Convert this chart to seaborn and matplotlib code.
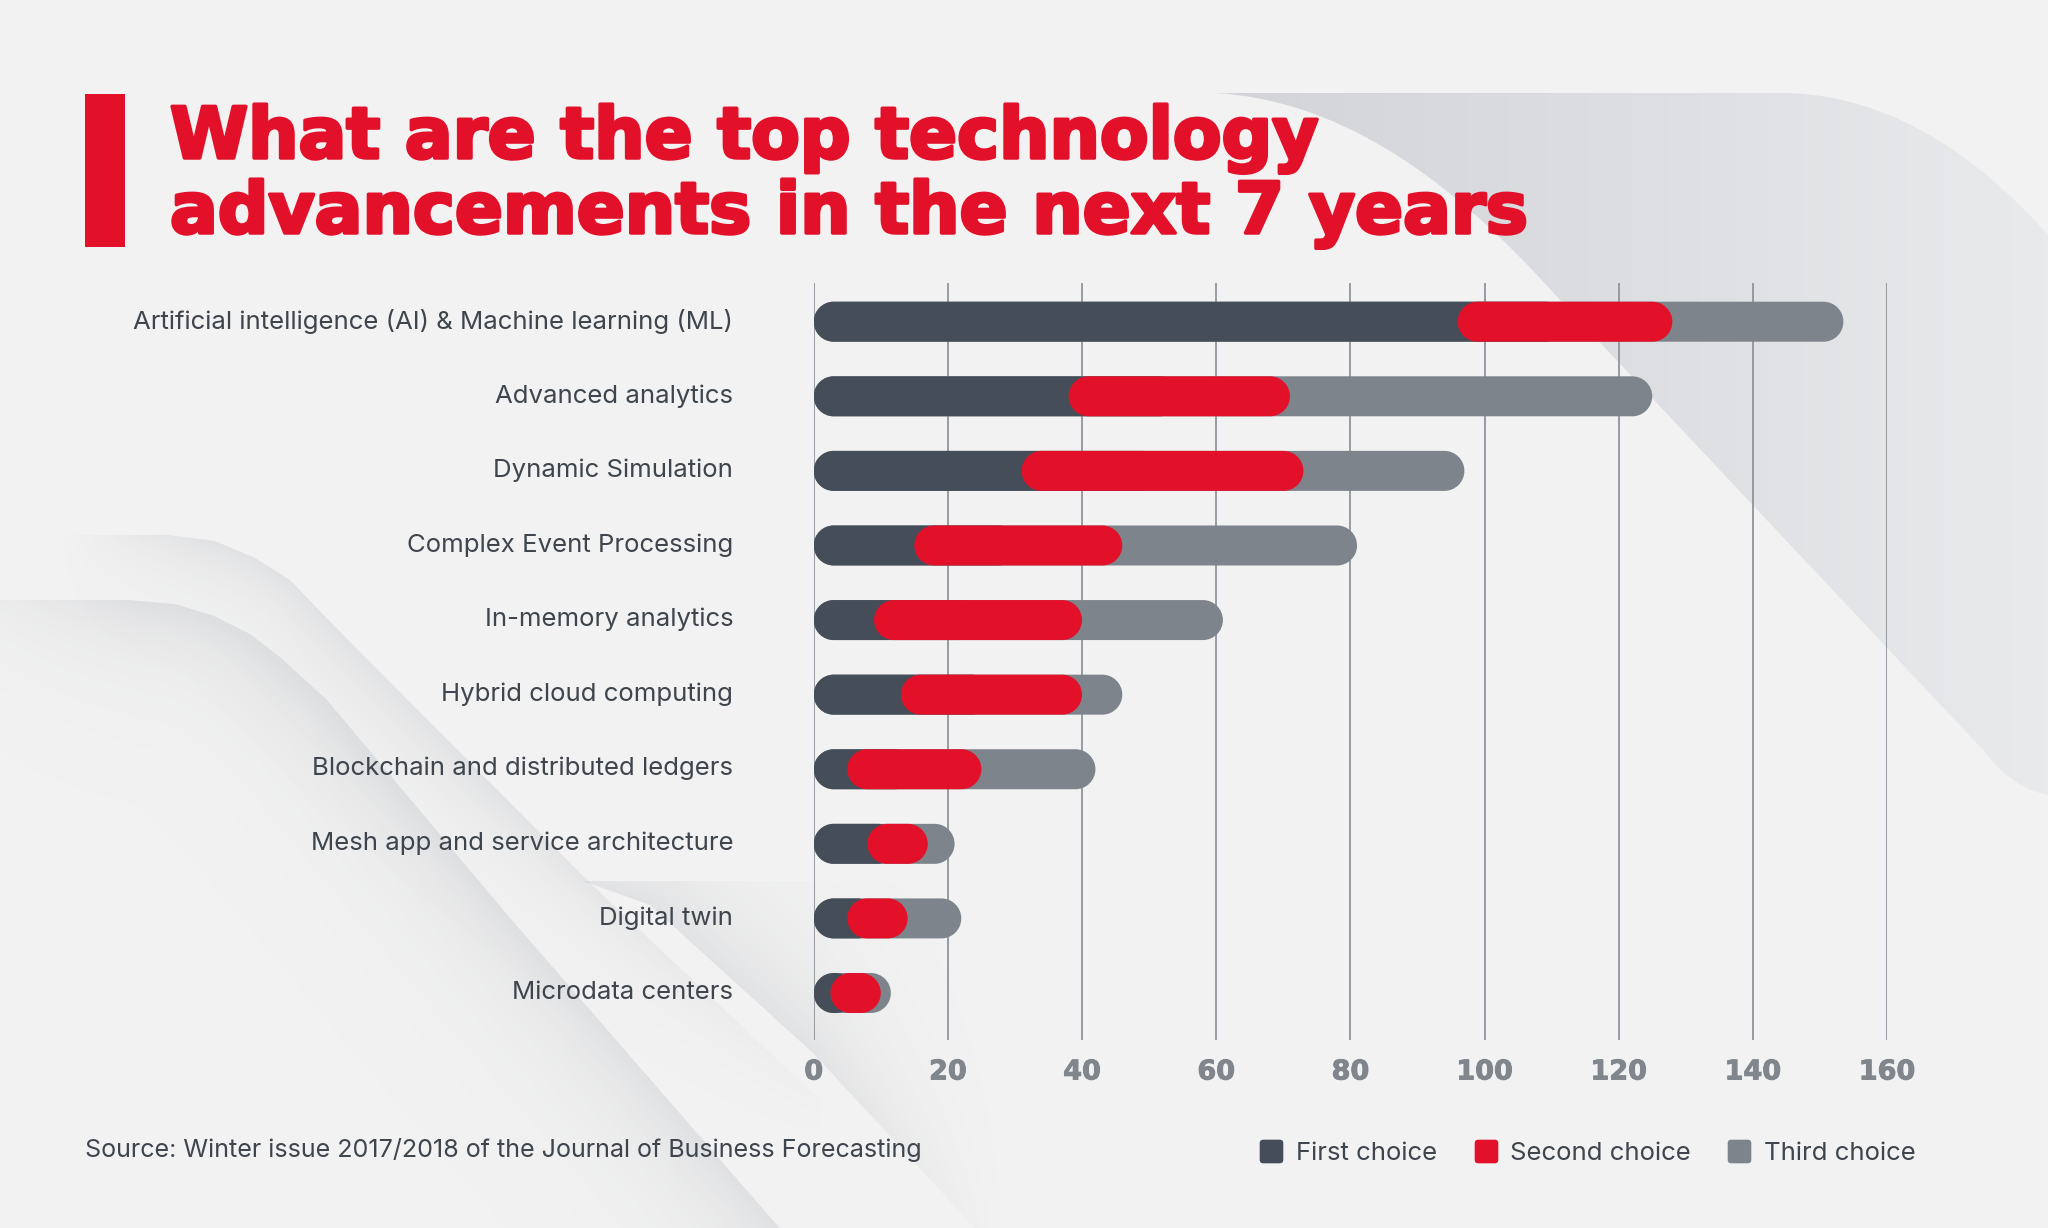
import numpy as np
import pandas as pd
import matplotlib
matplotlib.use("Agg")
import matplotlib.pyplot as plt
import seaborn as sns
from matplotlib.patches import Polygon, Rectangle, BoxStyle, PathPatch
from matplotlib.path import Path
from matplotlib.lines import Line2D
from matplotlib.colors import LinearSegmentedColormap
from matplotlib.transforms import ScaledTranslation
import matplotlib.patheffects as pe

# ---------------- data ----------------
categories = [
    "Artificial intelligence (AI) & Machine learning (ML)",
    "Advanced analytics",
    "Dynamic Simulation",
    "Complex Event Processing",
    "In-memory analytics",
    "Hybrid cloud computing",
    "Blockchain and distributed ledgers",
    "Mesh app and service architecture",
    "Digital twin",
    "Microdata centers",
]
first_choice = [96, 38, 31, 15, 9, 13, 5, 8, 5, 2.5]
second_choice = [32, 33, 42, 31, 31, 27, 20, 9, 9, 7.5]
third_choice = [25.5, 54, 24, 35, 21, 6, 17, 4, 8, 1.5]
x_ticks = [0, 20, 40, 60, 80, 100, 120, 140, 160]
series_names = ["First choice", "Second choice", "Third choice"]
title_lines = ["What are the top technology", "advancements in the next 7 years"]
source_text = "Source: Winter issue 2017/2018 of the Journal of Business Forecasting"

# ---------------- style ----------------
BG = "#f2f2f2"
DARK = "#454e58"
RED = "#e3102a"
GRAY = "#7e848b"
TEXT = "#3f454d"
TICK = "#80868c"
GRID = "#8e949a"

W, H = 2048, 1228
sns.set_theme(style="white")
plt.rcParams["font.family"] = ["Inter", "DejaVu Sans"]

fig = plt.figure(figsize=(W / 100, H / 100), dpi=100, facecolor=BG)
renderer = fig.canvas.get_renderer()

# ---------------- background decoration (pixel coords) ----------------
bg = fig.add_axes([0, 0, 1, 1], zorder=-5)
bg.axis("off")

M, L, C3, C4, CL = Path.MOVETO, Path.LINETO, Path.CURVE3, Path.CURVE4, Path.CLOSEPOLY
tr_verts = [(1216, 93), (1780, 93), (1900, 93), (1990, 170), (2048, 235),
            (2048, 795), (2012, 788), (1985, 752), (1560, 300),
            (1440, 165), (1330, 100), (1216, 93), (1216, 93)]
tr_codes = [M, L, C4, C4, C4, L, C3, C3, L, C4, C4, C4, CL]
tr_patch = PathPatch(Path(tr_verts, tr_codes), fc="none", ec="none")
bg.add_patch(tr_patch)
cmap_tr = LinearSegmentedColormap.from_list("tr", ["#d2d4d7", "#dcdee1", "#e9eaec"])
im = bg.imshow(np.linspace(0, 1, 256)[None, :], extent=(1216, 2048, 795, 93),
               cmap=cmap_tr, aspect="auto", zorder=1, interpolation="bilinear")
im.set_clip_path(tr_patch)

# soft page-curl shadows on the left
step = 3
xs = np.arange(0, W, step) + step / 2
ys = np.arange(0, H, step) + step / 2
XX, YY = np.meshgrid(xs, ys)


def dist_polyline(pts):
    d = np.full(XX.shape, np.inf)
    for (x0, y0), (x1, y1) in zip(pts[:-1], pts[1:]):
        dx, dy = x1 - x0, y1 - y0
        t = np.clip(((XX - x0) * dx + (YY - y0) * dy) / (dx * dx + dy * dy), 0, 1)
        d = np.minimum(d, np.hypot(XX - (x0 + t * dx), YY - (y0 + t * dy)))
    return d


def shade(edge, extra, strength, scale, fade=1.0):
    d = dist_polyline(edge)
    rgba = np.zeros(XX.shape + (4,))
    rgba[..., 0] = 0.52
    rgba[..., 1] = 0.54
    rgba[..., 2] = 0.58
    rgba[..., 3] = strength * np.exp(-d / scale) * fade
    poly = Polygon(edge + extra, closed=True, fc="none", ec="none")
    bg.add_patch(poly)
    img = bg.imshow(rgba, extent=(0, W, H, 0), interpolation="bilinear", zorder=1, aspect="auto")
    img.set_clip_path(poly)


edge_up = [(60, 535), (168, 535), (215, 541), (255, 558), (290, 580), (316, 607),
           (357, 649), (590, 883), (820, 1100)]
fade_up = np.clip((XX - 60) / 140, 0, 1) * np.clip((1150 - YY) / 350, 0, 1)
shade(edge_up, [(820, 1228), (60, 1228)], 0.16, 38, fade_up)

edge_low = [(-10, 600), (128, 600), (175, 604), (214, 616), (250, 634), (281, 658),
            (327, 700), (510, 918), (790, 1240)]
fade_low = np.clip((XX + 80) / 220, 0, 1)
shade(edge_low, [(-10, 1240)], 0.17, 55, fade_low)

# grey band near the bottom of the plot (fades to the right)
edge_dt = [(975, 1228), (813, 1053), (650, 905), (583, 881)]
fade_dt = np.clip((1010 - XX) / 200, 0, 1)
shade(edge_dt, [(880, 881), (980, 905), (1080, 1000), (1150, 1228)], 0.15, 60, fade_dt)

# red accent bar next to the title
bg.add_patch(Rectangle((85, 94), 40, 153, facecolor=RED, edgecolor="none", zorder=3))
bg.set_xlim(0, W)
bg.set_ylim(H, 0)

# ---------------- main axes ----------------
ax_l, ax_r, ax_t, ax_b = 813.7, 1887.0, 282.7, 1040.0
ax = fig.add_axes([ax_l / W, 1 - ax_b / H, (ax_r - ax_l) / W, (ax_b - ax_t) / H])
ax.set_facecolor("none")

df = pd.DataFrame({"category": categories, "first": first_choice,
                   "second": second_choice, "third": third_choice})
df["cum2"] = df["first"] + df["second"]
df["total"] = df["cum2"] + df["third"]

BAR_H = 40 / 74.6


def draw(col, color, z):
    n0 = len(ax.patches)
    sns.barplot(data=df, x=col, y="category", orient="h", color=color,
                saturation=1, width=BAR_H, ax=ax, zorder=z)
    return list(ax.patches[n0:])


gray_bars = draw("total", GRAY, 2)
dark_bars = draw("first", DARK, 3)
red_bars = draw("cum2", RED, 4)

# red segment spans first..first+second; dark runs underneath the red cap
for p, f, s in zip(red_bars, df["first"], df["second"]):
    p.set_x(f)
    p.set_width(s)
for p, s in zip(dark_bars, df["second"]):
    p.set_width(p.get_width() + s / 2)

ax.set_xlim(0, 160)
ax.set_ylim(9.63, -0.523)

# turn each seaborn bar into a pill with semicircular caps
px_per_x = ax.bbox.width / 160.0
R_X = 20.0 / px_per_x
K = 0.5523


def pill_path(x0, y0, w, h):
    x1, y1 = x0 + w, y0 + h
    rx = min(R_X, w / 2)
    ry = h / 2
    yc = y0 + ry
    v = [(x0 + rx, y0), (x1 - rx, y0),
         (x1 - rx + K * rx, y0), (x1, yc - K * ry), (x1, yc),
         (x1, yc + K * ry), (x1 - rx + K * rx, y1), (x1 - rx, y1),
         (x0 + rx, y1),
         (x0 + rx - K * rx, y1), (x0, yc + K * ry), (x0, yc),
         (x0, yc - K * ry), (x0 + rx - K * rx, y0), (x0 + rx, y0),
         (x0 + rx, y0)]
    c = [M, L, C4, C4, C4, C4, C4, C4, L, C4, C4, C4, C4, C4, C4, CL]
    return Path(v, c)


for p in gray_bars + dark_bars + red_bars:
    pp = PathPatch(pill_path(p.get_x(), p.get_y(), p.get_width(), p.get_height()),
                   facecolor=p.get_facecolor(), edgecolor="none", zorder=p.get_zorder())
    p.remove()
    ax.add_patch(pp)

ax.grid(axis="x", color=GRID, lw=1.3)
ax.grid(axis="y", visible=False)
ax.set_axisbelow(True)
for sp in ax.spines.values():
    sp.set_visible(False)
ax.set_xlabel("")
ax.set_ylabel("")

ax.set_xticks(x_ticks)
ax.set_xticklabels([str(v) for v in x_ticks], fontfamily="DejaVu Sans",
                   fontweight="bold", fontsize=19.5, color=TICK)
for t in ax.get_xticklabels():
    t.set_path_effects([pe.withStroke(linewidth=0.7, foreground=TICK)])
ax.tick_params(axis="x", length=0, pad=14)

# fit label font size to reference width
tmp = fig.text(0, 0, categories[0], fontsize=20)
w20 = tmp.get_window_extent(renderer).width
tmp.remove()
label_fs = 20 * 601 / w20

ax.tick_params(axis="y", length=0, pad=58, labelsize=label_fs, labelcolor=TEXT)
up = ScaledTranslation(0, 3 / 100, fig.dpi_scale_trans)
for lbl in ax.get_yticklabels():
    lbl.set_transform(lbl.get_transform() + up)

# ---------------- title ----------------
heavy = [pe.withStroke(linewidth=2.5, foreground=RED)]
fig.text(170 / W, 1 - 158 / H, title_lines[0], fontfamily="DejaVu Sans",
         fontweight="bold", color=RED, fontsize=51, va="baseline", ha="left",
         path_effects=heavy)
fig.text(170 / W, 1 - 233 / H, title_lines[1], fontfamily="DejaVu Sans",
         fontweight="bold", color=RED, fontsize=51, va="baseline", ha="left",
         path_effects=heavy)

# ---------------- source ----------------
src = fig.text(85 / W, 1 - 1150 / H, source_text, fontsize=20, color=TEXT, va="center", ha="left")
ws = src.get_window_extent(renderer).width
src.set_fontsize(20 * 838 / ws)

# ---------------- legend ----------------
sq_path = BoxStyle("round", pad=0, rounding_size=0.15)(-0.5, -0.5, 1, 1, 1.0)
handles = [Line2D([], [], ls="none", marker=sq_path, markersize=17,
                  markerfacecolor=c, markeredgecolor="none") for c in (DARK, RED, GRAY)]
fs_px = label_fs * 100 / 72
leg = ax.legend(handles, series_names, ncol=3, loc="center right",
                bbox_to_anchor=(1916 / W, 1 - 1153 / H), bbox_transform=fig.transFigure,
                frameon=False, fontsize=label_fs, labelcolor=TEXT,
                handlelength=24 / fs_px, handletextpad=13 / fs_px,
                columnspacing=36 / fs_px, borderaxespad=0, borderpad=0)

fig.savefig("out.png", dpi=100, facecolor=BG)
